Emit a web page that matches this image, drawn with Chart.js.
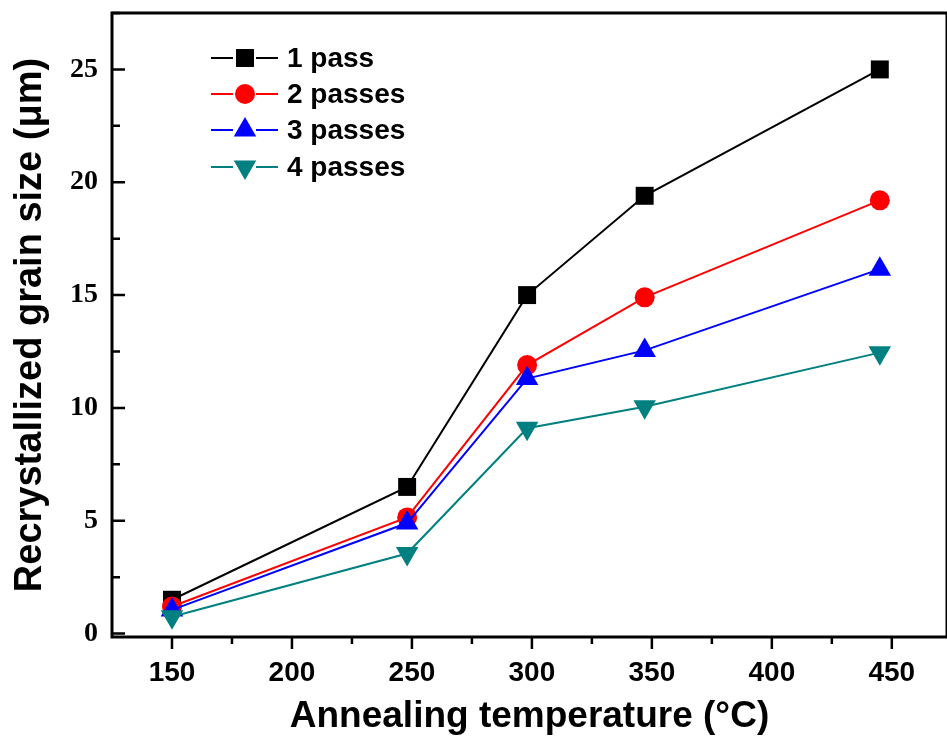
<!DOCTYPE html>
<html>
<head>
<meta charset="utf-8">
<script src="https://cdn.jsdelivr.net/npm/chart.js@4.4.1/dist/chart.umd.min.js"></script>
<style>
  html, body { margin: 0; padding: 0; background: #fff; overflow: hidden; }
  #wrap { width: 960px; height: 742px; }
</style>
</head>
<body>
<div id="wrap"><canvas id="chart1" width="960" height="742"></canvas></div>
<script>
var temps = [150, 248, 298, 347, 445];
var pass1 = [1.5, 6.5, 15.0, 19.4, 25.0];
var pass2 = [1.2, 5.15, 11.9, 14.9, 19.2];
var pass3 = [1.05, 4.9, 11.3, 12.55, 16.15];
var pass4 = [0.75, 3.55, 9.1, 10.05, 12.45];
var seriesNames = ["1 pass", "2 passes", "3 passes", "4 passes"];
var xTicks = [150, 200, 250, 300, 350, 400, 450];
var yTicks = [0, 5, 10, 15, 20, 25];

function pts(vals) {
    return vals.map(function (v, i) { return { x: temps[i], y: v }; });
}

// box frame, inward y ticks, outward x ticks, minor ticks
var frame = {
    id: 'frame',
    afterDraw: function (chart) {
        var c = chart.ctx, a = chart.chartArea;
        var xs = chart.scales.x, ys = chart.scales.y;
        c.save();
        c.strokeStyle = '#000';
        c.lineWidth = 3;
        c.strokeRect(a.left, a.top, a.right - a.left, a.bottom - a.top);
        c.lineWidth = 2.5;
        c.beginPath();
        for (var v = 0; v <= 27.5; v += 2.5) {
            var y = ys.getPixelForValue(v);
            var len = (v % 5 === 0) ? 13 : 8;
            c.moveTo(a.left, y);
            c.lineTo(a.left + len, y);
        }
        for (var t = 150; t <= 475; t += 25) {
            var x = xs.getPixelForValue(t);
            var l = (t % 50 === 0) ? 12 : 7;
            c.moveTo(x, a.bottom);
            c.lineTo(x, a.bottom + l);
        }
        c.stroke();
        c.restore();
    }
};

// legend drawn inside the plot
var insideLegend = {
    id: 'insideLegend',
    afterDraw: function (chart) {
        var c = chart.ctx;
        var rows = [58, 94, 130, 167];
        c.save();
        chart.data.datasets.forEach(function (ds, i) {
            var y = rows[i];
            c.strokeStyle = ds.borderColor;
            c.lineWidth = 2;
            c.beginPath();
            c.moveTo(211, y); c.lineTo(233, y);
            c.moveTo(256, y); c.lineTo(278, y);
            c.stroke();
            c.fillStyle = ds.backgroundColor;
            c.strokeStyle = ds.backgroundColor;
            Chart.helpers.drawPoint(c, {
                pointStyle: ds.pointStyle,
                radius: ds.pointRadius,
                rotation: ds.pointRotation || 0,
                borderWidth: 0
            }, 245, y);
            c.fillStyle = '#000';
            c.font = 'bold 28px "Liberation Sans", Arial, sans-serif';
            c.textBaseline = 'middle';
            c.fillText(seriesNames[i], 287, y + 1);
        });
        c.restore();
    }
};

function ds(label, vals, color, style, r, rot, order) {
    return {
        label: label,
        data: pts(vals),
        borderColor: color,
        backgroundColor: color,
        borderWidth: 2,
        pointStyle: style,
        pointRadius: r,
        pointHoverRadius: r,
        pointRotation: rot,
        pointBorderWidth: 0,
        order: order,
        tension: 0
    };
}

var ctx = document.getElementById("chart1").getContext('2d');
var chart1 = new Chart(ctx, {
    type: 'line',
    data: {
        datasets: [
            ds(seriesNames[0], pass1, '#000000', 'rect', 12.7, 0, 3),
            ds(seriesNames[1], pass2, '#ff0000', 'circle', 10, 0, 2),
            ds(seriesNames[2], pass3, '#0000ff', 'triangle', 13, 0, 1),
            ds(seriesNames[3], pass4, '#008080', 'triangle', 13, 180, 0)
        ]
    },
    options: {
        responsive: false,
        animation: false,
        layout: { padding: { top: 12, right: 8, left: 0, bottom: 0 } },
        plugins: { legend: { display: false }, tooltip: { enabled: false } },
        scales: {
            x: {
                type: 'linear',
                min: 125,
                max: 473,
                afterBuildTicks: function (s) { s.ticks = xTicks.map(function (v) { return { value: v }; }); },
                afterFit: function (s) { s.height = 105; s.paddingLeft = 0; s.paddingRight = 0; },
                grid: { drawOnChartArea: false, drawTicks: false },
                border: { display: false },
                ticks: {
                    padding: 19,
                    color: '#000',
                    maxRotation: 0,
                    font: { family: '"Liberation Sans", Arial, sans-serif', size: 28, weight: 'bold' }
                },
                title: {
                    display: true,
                    text: 'Annealing temperature (°C)',
                    color: '#000',
                    padding: { top: 0, bottom: 3 },
                    font: { family: '"Liberation Sans", Arial, sans-serif', size: 37, weight: 'bold' }
                }
            },
            y: {
                type: 'linear',
                min: -0.15,
                max: 27.5,
                afterBuildTicks: function (s) { s.ticks = yTicks.map(function (v) { return { value: v }; }); },
                afterFit: function (s) { s.width = 112; s.paddingTop = 0; s.paddingBottom = 0; },
                grid: { drawOnChartArea: false, drawTicks: false },
                border: { display: false },
                ticks: {
                    padding: 14,
                    color: '#000',
                    font: { family: '"Liberation Serif", "Times New Roman", serif', size: 28, weight: 'bold' }
                },
                title: {
                    display: true,
                    text: 'Recrystallized grain size (μm)',
                    color: '#000',
                    padding: { top: 8, bottom: 0 },
                    font: { family: '"Liberation Sans", Arial, sans-serif', size: 38, weight: 'bold' }
                }
            }
        }
    },
    plugins: [frame, insideLegend]
});
</script>
</body>
</html>
